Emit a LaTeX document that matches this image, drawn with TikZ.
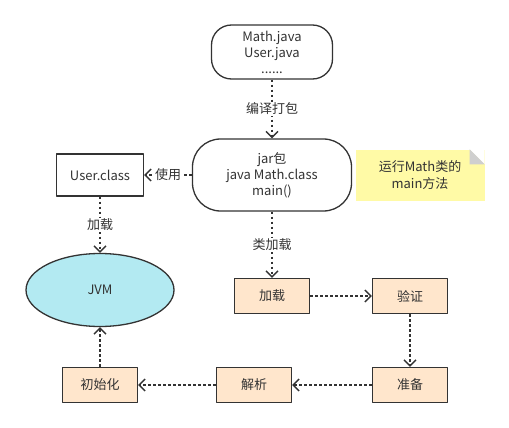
\documentclass[tikz,border=0pt]{standalone}
\usepackage{fontspec}
\setmainfont{Noto Sans CJK SC}
\usetikzlibrary{arrows.meta,shapes.geometric}
\definecolor{linegray}{HTML}{333333}
\definecolor{stepfill}{HTML}{FFE6CC}
\definecolor{jvmfill}{HTML}{B3EAF2}
\definecolor{notefill}{HTML}{FFFAA6}
\definecolor{foldgray}{HTML}{CFCFCF}
\tikzset{
  every picture/.style={line join=round, >={Straight Barb[length=6pt,width=12pt,line width=1.4pt]}},
  blk/.style={draw=linegray, line width=1.3pt, align=center, font=\fontsize{13}{16}\selectfont, text=linegray},
  pill/.style={blk, rounded corners=20pt, minimum width=121pt, minimum height=54pt},
  stepbox/.style={blk, fill=stepfill, minimum width=75pt, minimum height=35pt},
  flow/.style={->, draw=linegray, line width=1.6pt, dash pattern=on 2.5pt off 2.5pt},
  lbl/.style={fill=white, inner sep=1pt, font=\fontsize{13}{14}\selectfont, text=linegray},
}

\begin{document}
\begin{tikzpicture}[x=1pt,y=-1pt]
\useasboundingbox (0,0) rectangle (509,428);
% sources and jar
\node[pill] (src) at (272,52) {Math.java\\User.java\\......};
\node[pill, minimum width=159pt, minimum height=72pt, rounded corners=28pt] (jar) at (272,175) {jar包\\java Math.class\\main()};
\node[blk, minimum width=87pt, minimum height=42pt] (user) at (100,175) {User.class};
\node[blk, ellipse, fill=jvmfill, minimum width=148pt, minimum height=73pt] (jvm) at (100,290) {JVM};
% note
\node[fill=notefill, minimum width=129pt, minimum height=51pt, align=center, font=\fontsize{13}{17}\selectfont, text=linegray] (note) at (420,175) {运行Math类的\\main方法};
\fill[white] ([xshift=-15pt]note.north east) -- (note.north east) -- ([yshift=-15pt]note.north east) -- cycle;
\fill[foldgray] ([xshift=-15pt]note.north east) -- ([xshift=-15pt,yshift=-15pt]note.north east) -- ([yshift=-15pt]note.north east) -- cycle;
% class loading steps
\node[stepbox] (load) at (272,296) {加载};
\node[stepbox] (verify) at (410,296) {验证};
\node[stepbox] (prepare) at (410,385) {准备};
\node[stepbox] (resolve) at (254,385) {解析};
\node[stepbox] (init) at (100,385) {初始化};
% connectors
\draw[flow] (src) -- node[lbl]{编译打包} (jar);
\draw[flow] (jar) -- node[lbl]{使用} (user);
\draw[flow] (user) -- node[lbl]{加载} (jvm);
\draw[flow] (jar) -- node[lbl]{类加载} (load);
\draw[flow] (load) -- (verify);
\draw[flow] (verify) -- (prepare);
\draw[flow] (prepare) -- (resolve);
\draw[flow] (resolve) -- (init);
\draw[flow] (init) -- (jvm);
\end{tikzpicture}
\end{document}
